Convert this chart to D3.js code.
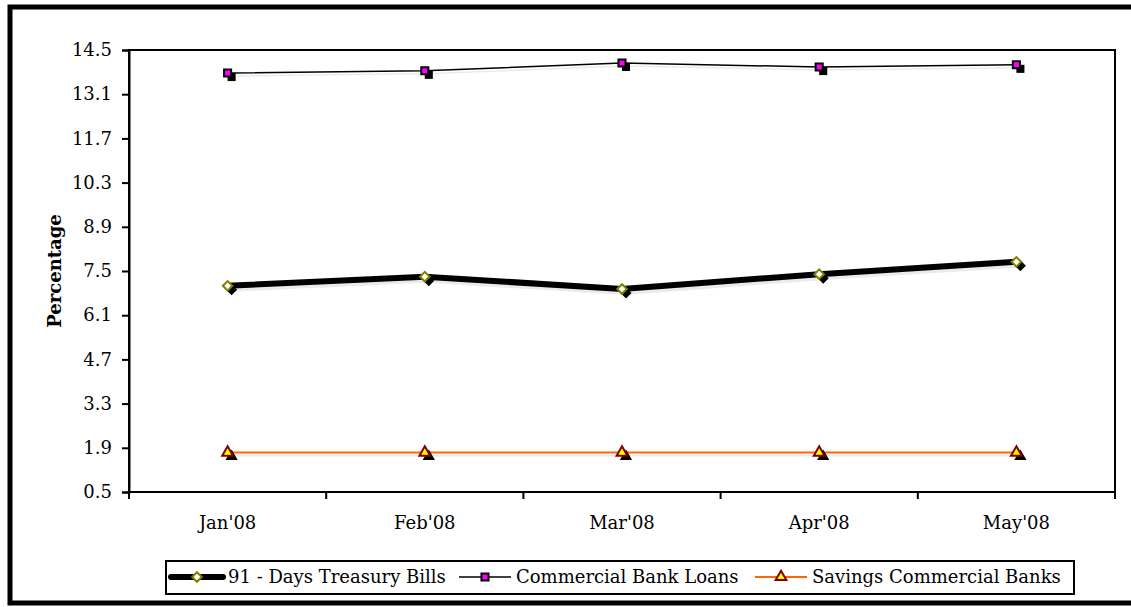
<!DOCTYPE html>
<html>
<head>
<meta charset="utf-8">
<script src="https://cdn.jsdelivr.net/npm/d3@7"></script>
<style>
  body { margin: 0; background: #fff; }
  svg text { font-family: "DejaVu Serif", "Liberation Serif", serif; fill: #000; }
</style>
</head>
<body>
<svg id="chart" width="1131" height="607"></svg>
<script>
const months = ["Jan'08", "Feb'08", "Mar'08", "Apr'08", "May'08"];
const treasuryBills = [7.03, 7.32, 6.93, 7.40, 7.79];
const bankLoans = [13.77, 13.84, 14.09, 13.96, 14.03];
const savings = [1.75, 1.75, 1.75, 1.75, 1.75];
const yTicks = [0.5, 1.9, 3.3, 4.7, 6.1, 7.5, 8.9, 10.3, 11.7, 13.1, 14.5];

const margin = { left: 129, right: 16, top: 50, bottom: 115 };
const width = 1131, height = 607;

const svg = d3.select('#chart');

// outer frame
svg.append('rect')
  .attr('x', 10).attr('y', 7)
  .attr('width', 1125).attr('height', 596)
  .attr('fill', 'none').attr('stroke', '#000').attr('stroke-width', 5);

const xScale = d3.scaleBand()
  .domain(months)
  .range([margin.left, width - margin.right]);

const yScale = d3.scaleLinear()
  .domain([0.5, 14.5])
  .range([height - margin.bottom, margin.top]);

const xc = d => xScale(d) + xScale.bandwidth() / 2;

// plot box
svg.append('rect')
  .attr('x', margin.left).attr('y', margin.top)
  .attr('width', width - margin.right - margin.left)
  .attr('height', height - margin.bottom - margin.top)
  .attr('fill', 'none').attr('stroke', '#000').attr('stroke-width', 2);

// y axis
const yAxis = d3.axisLeft(yScale).tickValues(yTicks).tickSize(7).tickPadding(10)
  .tickFormat(d3.format('.1f'));
const yAxisG = svg.append('g')
  .attr('transform', `translate(${margin.left},0)`)
  .call(yAxis);
yAxisG.select('.domain').attr('stroke-width', 2);
yAxisG.selectAll('.tick line').attr('stroke-width', 2);
yAxisG.selectAll('text').style('font-size', '18px').style('font-family', '"DejaVu Serif", serif');

// x axis, ticks between categories
const xAxisG = svg.append('g')
  .attr('transform', `translate(0,${height - margin.bottom})`);
xAxisG.append('line')
  .attr('x1', margin.left).attr('x2', width - margin.right)
  .attr('stroke', '#000').attr('stroke-width', 2);
xAxisG.selectAll('.xtick')
  .data(months.concat(['end']))
  .enter().append('line')
  .attr('x1', (d, i) => i < months.length ? xScale(d) : width - margin.right)
  .attr('x2', (d, i) => i < months.length ? xScale(d) : width - margin.right)
  .attr('y1', 0).attr('y2', 7)
  .attr('stroke', '#000').attr('stroke-width', 2);
xAxisG.selectAll('.xlabel')
  .data(months)
  .enter().append('text')
  .attr('x', d => xc(d))
  .attr('y', 37)
  .attr('text-anchor', 'middle')
  .style('font-size', '18px')
  .text(d => d);

// y title
svg.append('text')
  .attr('transform', `translate(61,${(margin.top + height - margin.bottom) / 2}) rotate(-90)`)
  .attr('text-anchor', 'middle')
  .style('font-size', '18px')
  .style('font-weight', 'bold')
  .text('Percentage');

const line = d3.line().x((d, i) => xc(months[i])).y(d => yScale(d));

const series = [
  { name: '91 - Days Treasury Bills', values: treasuryBills, color: '#000', width: 6, marker: 'diamond', fill: '#fff', mstroke: '#808000' },
  { name: 'Commercial Bank Loans', values: bankLoans, color: '#000', width: 1.5, marker: 'square', fill: '#ff00ff', mstroke: '#000' },
  { name: 'Savings Commercial Banks', values: savings, color: '#ff6600', width: 2, marker: 'triangle', fill: '#ffff00', mstroke: '#800000' }
];

const symbolFill = { diamond: d3.symbolSquare, square: d3.symbolSquare, triangle: d3.symbolTriangle };
const symbolSize = { diamond: 45, square: 50, triangle: 50 };

function drawMarker(g, s, x, y, shadow) {
  const rot = s.marker === 'diamond' ? ' rotate(45)' : '';
  if (shadow) {
    g.append('path')
      .attr('d', d3.symbol().type(symbolFill[s.marker]).size(symbolSize[s.marker] + 15)())
      .attr('transform', `translate(${x + 4},${y + 4})${rot}`)
      .attr('fill', '#000');
  }
  g.append('path')
    .attr('d', d3.symbol().type(symbolFill[s.marker]).size(symbolSize[s.marker])())
    .attr('transform', `translate(${x},${y})${rot}`)
    .attr('fill', s.fill)
    .attr('stroke', s.mstroke)
    .attr('stroke-width', 2);
}

series.forEach(s => {
  const g = svg.append('g');
  // soft line shadow
  g.append('path')
    .datum(s.values)
    .attr('d', line)
    .attr('transform', 'translate(2,3)')
    .attr('fill', 'none')
    .attr('stroke', '#000')
    .attr('stroke-opacity', 0.08)
    .attr('stroke-width', s.width);
  g.append('path')
    .datum(s.values)
    .attr('d', line)
    .attr('fill', 'none')
    .attr('stroke', s.color)
    .attr('stroke-width', s.width);
  s.values.forEach((v, i) => drawMarker(g, s, xc(months[i]), yScale(v), true));
});

// legend
const legend = svg.append('g');
legend.append('rect')
  .attr('x', 166).attr('y', 561)
  .attr('width', 908).attr('height', 33)
  .attr('fill', '#fff').attr('stroke', '#000').attr('stroke-width', 2);

const legendX = [171, 459, 755];
series.forEach((s, i) => {
  const g = legend.append('g');
  const x0 = legendX[i], ly = 577;
  g.append('line')
    .attr('x1', x0).attr('x2', x0 + 52)
    .attr('y1', ly).attr('y2', ly)
    .attr('stroke', s.color)
    .attr('stroke-width', s.width)
    .attr('stroke-linecap', s.width > 3 ? 'round' : 'butt');
  drawMarker(g, s, x0 + 26, ly, false);
  g.append('text')
    .attr('x', x0 + 57)
    .attr('y', ly + 6)
    .style('font-size', '18px')
    .text(s.name);
});
</script>
</body>
</html>
